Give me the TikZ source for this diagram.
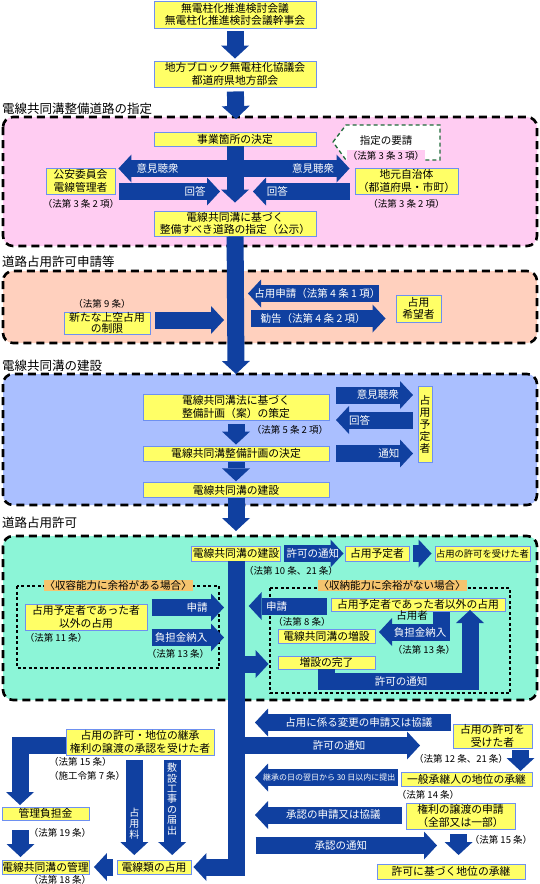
\documentclass[tikz,border=0pt]{standalone}
\usepackage{fontspec}
\setmainfont{Noto Sans CJK JP}
\usepackage{tikz}
\usetikzlibrary{
  calc,
  arrows.meta,
  positioning
}
\definecolor{boxfill}{HTML}{FFFF66}
\definecolor{boxline}{HTML}{6E90F0}
\definecolor{arrowblue}{HTML}{1040A0}
\definecolor{pinkbg}{HTML}{FFCCF2}
\definecolor{peachbg}{HTML}{FFD0BE}
\definecolor{bluebg}{HTML}{AABFFF}
\definecolor{greenbg}{HTML}{8CF5D7}
\definecolor{caselabel}{HTML}{F5C46E}
\definecolor{reqgreen}{HTML}{1F6B3A}
\tikzset{
  stage/.style={draw=black, line width=2.6pt, dash pattern=on 8pt off 5pt, rounded corners=10pt},
  stagetitle/.style={anchor=base west, inner sep=0pt, font=\fontsize{12.5}{14}\selectfont},
  casebox/.style={draw=black, line width=1.1pt, dash pattern=on 3pt off 2.5pt},
  caselbl/.style={fill=caselabel, inner sep=1pt, font=\fontsize{10.5}{12}\selectfont},
  box/.style={draw=boxline, fill=boxfill, line width=0.9pt, inner sep=0pt,
              align=center, font=\fontsize{10.8}{12.5}\selectfont},
  law/.style={inner sep=0pt, font=\fontsize{9.5}{11}\selectfont},
  blk/.style={draw=arrowblue, line width=17pt,
              -{Triangle[width=28pt,length=13pt,line width=0pt]}},
  arrtext/.style={text=white, inner sep=0pt, align=center, font=\fontsize{10.5}{12}\selectfont}
}

\begin{document}
\begin{tikzpicture}[x=1pt, y=-1pt]

\useasboundingbox (0,0) rectangle (540,884);

% stages
\draw[stage, fill=pinkbg]  (3,117) rectangle (537,246);
\draw[stage, fill=peachbg] (3,271) rectangle (537,343);
\draw[stage, fill=bluebg]  (3,374) rectangle (537,505);
\draw[stage, fill=greenbg] (3,536) rectangle (537,700);

\node[stagetitle] (t-shitei)   at (2,113) {電線共同溝整備道路の指定};
\node[stagetitle] (t-shinsei)  at (2,266) {道路占用許可申請等};
\node[stagetitle] (t-kensetsu) at (2,370) {電線共同溝の建設};
\node[stagetitle] (t-kyoka)    at (2,527) {道路占用許可};

% case frames
\draw[casebox] (17,586) rectangle (219,668);
\draw[casebox] (270,588) rectangle (510,693);
\node[caselbl] (caseA) at (118,585.5) {〈収容能力に余裕がある場合〉};
\node[caselbl] (caseB) at (392,585.5) {〈収納能力に余裕がない場合〉};

% top
\node[box, minimum width=162, minimum height=27] (kentou) at (235,14.5) {無電柱化推進検討会議\\無電柱化推進検討会議幹事会};
\node[box, minimum width=162, minimum height=26] (chihou) at (235,74) {地方ブロック無電柱化協議会\\都道府県地方部会};

% designation
\node[box, minimum width=162, minimum height=14] (jigyo)  at (235,139) {事業箇所の決定};
\node[box, minimum width=162, minimum height=25] (shitei) at (235,223.5) {電線共同溝に基づく\\整備すべき道路の指定（公示）};
\node[box, minimum width=69,  minimum height=26] (koan)   at (80.5,181) {公安委員会\\電線管理者};
\node[box, minimum width=103, minimum height=26] (jimoto) at (406.5,181) {地元自治体\\（都道府県・市町）};
\node[law] (lawKoan)   at (81,204)    {（法第 3 条 2 項）};
\node[law] (lawJimoto) at (406.5,204) {（法第 3 条 2 項）};
\draw[reqgreen, line width=1.3pt, dash pattern=on 4pt off 3pt, fill=white]
  (333,142) -- (346,125) -- (440,125) -- (440,160) -- (346,160) -- cycle;
\node[inner sep=0pt, font=\fontsize{10.5}{12}\selectfont] (yousei) at (386,141) {指定の要請};
\node[law, fill=pinkbg, inner sep=1pt] (lawYousei) at (386,156) {（法第 3 条 3 項）};

% application
\node[box, minimum width=86, minimum height=22, font=\fontsize{10.8}{10.5}\selectfont] (seigen) at (107,323) {新たな上空占用\\の制限};
\node[law] (lawSeigen) at (102,304) {（法第 9 条）};
\node[box, minimum width=45, minimum height=27] (kibou) at (418.5,308.5) {占用\\希望者};

% construction
\node[box, minimum width=186, minimum height=26]   (keikakuAn) at (236,407)   {電線共同溝法に基づく\\整備計画（案）の策定};
\node[law] (lawKeikaku) at (290,430) {（法第 5 条 2 項）};
\node[box, minimum width=186, minimum height=15]   (keikaku)   at (236,453.5) {電線共同溝整備計画の決定};
\node[box, minimum width=186, minimum height=14.5] (kensetsuA) at (236,490)   {電線共同溝の建設};
\node[box, minimum width=14, minimum height=76, font=\fontsize{10.8}{12}\selectfont] (yoteiA) at (425,424) {占\\用\\予\\定\\者};

% permission
\node[box, minimum width=89, minimum height=15] (kensetsuB) at (236,553.5) {電線共同溝の建設};
\node[box, minimum width=64, minimum height=15] (yoteiB)    at (377,553.5) {占用予定者};
\node[box, minimum width=95, minimum height=15, font=\fontsize{9.3}{11}\selectfont] (kyokashaA) at (482.5,553.5) {占用の許可を受けた者};
\node[law] (lawTsuchiA) at (291,571) {（法第 10 条、21 条）};

\node[box, minimum width=122, minimum height=26] (igaiA) at (86,617) {占用予定者であった者\\以外の占用};
\node[law] (lawIgaiA)  at (56,638)  {（法第 11 条）};
\node[law] (lawFutanA) at (178,654) {（法第 13 条）};

\node[box, minimum width=174, minimum height=13] (igaiB)    at (418,604.5) {占用予定者であった者以外の占用};
\node[law] (lawShinseiB) at (302,622) {（法第 8 条）};
\node[box, minimum width=97, minimum height=14]  (zousetsu) at (326.5,636)  {電線共同溝の増設};
\node[box, minimum width=97, minimum height=13]  (kanryou)  at (326.5,662.5) {増設の完了};
\node[inner sep=0pt, font=\fontsize{10.5}{12}\selectfont] (senyousha) at (412,616) {占用者};
\node[law] (lawFutanB) at (424,650) {（法第 13 条）};

% after permission
\node[box, minimum width=79, minimum height=24]  (kyokashaB) at (492.5,736) {占用の許可を\\受けた者};
\node[law] (lawKyokaB) at (461,759) {（法第 12 条、21 条）};
\node[box, minimum width=131, minimum height=14] (ippan)     at (466.5,779) {一般承継人の地位の承継};
\node[law] (lawIppan) at (428,795) {（法第 14 条）};
\node[box, minimum width=109, minimum height=26] (jouto)     at (460.5,816) {権利の譲渡の申請\\（全部又は一部）};
\node[law] (lawJouto) at (501,840) {（法第 15 条）};
\node[box, minimum width=148, minimum height=15] (shoukei)   at (451,871.5) {許可に基づく地位の承継};

\node[box, minimum width=148, minimum height=26] (uketa)  at (140,742)   {占用の許可・地位の継承\\権利の譲渡の承認を受けた者};
\node[law, anchor=west] (lawUketa1) at (49,762) {（法第 15 条）};
\node[law, anchor=west] (lawUketa2) at (49,776) {（施工令第 7 条）};
\node[box, minimum width=87, minimum height=13]  (futan)  at (45.5,813.5) {管理負担金};
\node[law] (lawFutan) at (60,833) {（法第 19 条）};
\node[box, minimum width=87, minimum height=14]  (kanri)  at (45.5,867)   {電線共同溝の管理};
\node[law] (lawKanri) at (60,879.5) {（法第 18 条）};
\node[box, minimum width=74, minimum height=14]  (denrui) at (154,867)    {電線類の占用};

% arrow points
\coordinate (pinkIn)   at (236,119);
\coordinate (blueIn)   at (236,374);
\coordinate (greenIn)  at (236,531);
\coordinate (iken)     at (236,168.5);
\coordinate (kaito)    at (236,191.5);
\coordinate (seigenIn) at (224,320);
\coordinate (shinsei)  at (248,293.5);
\coordinate (kankoku)  at (251,318.5);
\coordinate (ikenB)    at (413,395);
\coordinate (kaitoB)   at (336,420);
\coordinate (tsuchiB)  at (413,453.5);

% arrows, top and designation
\draw[blk, shorten <=3pt, shorten >=2pt] (kentou) -- (chihou);
\draw[blk, shorten <=4pt] (chihou) -- (pinkIn);
\draw[blk, shorten >=3pt] (iken) -- (iken -| koan.east)
  node[arrtext, pos=0.65] (ikenL) {意見聴衆};
\draw[blk, shorten >=5pt] (iken) -- (iken -| jimoto.west)
  node[arrtext, pos=0.65] (ikenR) {意見聴衆};
\draw[blk, shorten <=4pt, shorten >=16pt] (kaito -| koan.east) -- (kaito)
  node[arrtext, pos=0.66] (kaitoL) {回答};
\draw[blk, shorten <=5pt, shorten >=17pt] (kaito -| jimoto.west) -- (kaito)
  node[arrtext, pos=0.65] (kaitoR) {回答};
\draw[blk, shorten >=8pt] (jigyo) -- (shitei);
\draw[blk] (shitei) -- (blueIn);

% arrows, application
\draw[blk, shorten <=5pt] (seigen.east |- seigenIn) -- (seigenIn);
\draw[blk, shorten <=17pt] (kibou.west |- shinsei) -- (shinsei)
  node[arrtext, pos=0.53] (shinseiTxt) {占用申請（法第 4 条 1 項）};
\draw[blk, shorten >=10pt] (kankoku) -- (kankoku -| kibou.west)
  node[arrtext, pos=0.43] (kankokuTxt) {勧告（法第 4 条 2 項）};

% arrows, construction
\draw[blk, shorten <=4pt, shorten >=1pt] (keikakuAn) -- (keikaku);
\draw[blk, shorten <=1pt, shorten >=1pt] (keikaku) -- (kensetsuA);
\draw[blk] (kensetsuA) -- (greenIn);
\draw[blk, shorten <=7pt] (keikakuAn.east |- ikenB) -- (ikenB)
  node[arrtext, pos=0.58] (ikenBTxt) {意見聴衆};
\draw[blk, shorten <=5pt] (yoteiA.west |- kaitoB) -- (kaitoB)
  node[arrtext, pos=0.71] (kaitoBTxt) {回答};
\draw[blk, shorten <=7pt] (keikaku.east |- tsuchiB) -- (tsuchiB)
  node[arrtext, pos=0.71] (tsuchiBTxt) {通知};

% arrows, permission
\coordinate (shinseiAS) at (151.5,607.5);
\coordinate (shinseiA)  at (224,607.5);
\coordinate (futanAS)   at (151.5,637.5);
\coordinate (futanA)    at (224,637.5);
\coordinate (shinseiB)  at (248.7,606);
\coordinate (futanBTop) at (441,612);
\coordinate (futanB)    at (379,632);
\coordinate (branchA)   at (236,664);
\coordinate (tsuchiD)   at (470,681);
\coordinate (tsuchiDTip) at (470,610);

\draw[blk] (kensetsuB) |- ([xshift=2pt]denrui.east);
\draw[blk, shorten <=3.5pt, shorten >=1pt] (kensetsuB) -- (yoteiB)
  node[arrtext, pos=0.5] (tsuchiA) {許可の通知};
\draw[blk, shorten <=4pt, shorten >=3pt] (yoteiB) -- (kyokashaA);
\draw[blk] (shinseiAS) -- (shinseiA) node[arrtext, pos=0.63] (shinseiATxt) {申請};
\draw[blk] (futanAS) -- (futanA) node[arrtext, pos=0.41] (futanATxt) {負担金納入};
\draw[blk, shorten <=4pt] (igaiB.west |- shinseiB) -- (shinseiB)
  node[arrtext, pos=0.66] (shinseiBTxt) {申請};
\draw[blk] (futanBTop) |- (futanB);
\node[arrtext] (futanBTxt) at (420,633) {負担金納入};
\draw[blk, shorten >=9pt] (branchA) -- (branchA -| kanryou.west);
\draw[blk] (kanryou.south) |- (tsuchiD) -- (tsuchiDTip);
\node[arrtext] (tsuchiDTxt) at (401,681) {許可の通知};

% arrows, after permission
\coordinate (henkouS) at (451,722.5);
\coordinate (henkou)  at (255,722.5);
\coordinate (tsuchiE) at (236,745.5);
\coordinate (tsuchiETip) at (420,745.5);
\coordinate (ippanIn) at (520.5,771);
\coordinate (keishou) at (255,777.5);
\coordinate (shouninS) at (255,815);
\coordinate (shouninTS) at (255.6,845.5);
\coordinate (shouninT)  at (437,845.5);
\coordinate (shoukeiIn) at (458.6,855);
\coordinate (futanIn)  at (20,805);
\coordinate (kanriIn)  at (20.5,857);
\coordinate (ryouIn)   at (134.3,855);
\coordinate (fusetsuIn) at (172.2,855);

\draw[blk] (henkouS) -- (henkou) node[arrtext, pos=0.47] (henkouTxt) {占用に係る変更の申請又は協議};
\draw[blk] (tsuchiE) -- (tsuchiETip) node[arrtext, pos=0.56] (tsuchiETxt) {許可の通知};
\draw[blk, shorten <=2pt] (kyokashaB.south -| ippanIn) -- (ippanIn);
\draw[blk, shorten <=2.6pt] (ippan.west |- keishou) -- (keishou)
  node[arrtext, pos=0.49, font=\fontsize{8}{9}\selectfont] (keishouTxt) {継承の日の翌日から 30 日以内に提出};
\draw[blk, shorten <=4pt] (jouto.west |- shouninS) -- (shouninS)
  node[arrtext, pos=0.48] (shouninSTxt) {承認の申請又は協議};
\draw[blk] (shouninTS) -- (shouninT) node[arrtext, pos=0.47] (shouninTTxt) {承認の通知};
\draw[blk, shorten <=5pt] (jouto.south -| shoukeiIn) -- (shoukeiIn);

\draw[blk] ([yshift=-3.5pt]uketa.west) -| (futanIn);
\draw[blk, shorten <=10pt] (futan.south -| kanriIn) -- (kanriIn);
\draw[blk, shorten <=3.5pt, shorten >=4.5pt] (denrui) -- (kanri);
\draw[blk, shorten <=5pt] (uketa.south -| ryouIn) -- (ryouIn);
\node[arrtext, font=\fontsize{10}{11}\selectfont] (ryouTxt) at (134.3,824) {占\\用\\料};
\draw[blk, shorten <=5pt] (uketa.south -| fusetsuIn) -- (fusetsuIn);
\node[arrtext, font=\fontsize{10}{10.4}\selectfont] (fusetsuTxt) at (172.2,799) {敷\\設\\工\\事\\の\\届\\出};

\end{tikzpicture}
\end{document}
